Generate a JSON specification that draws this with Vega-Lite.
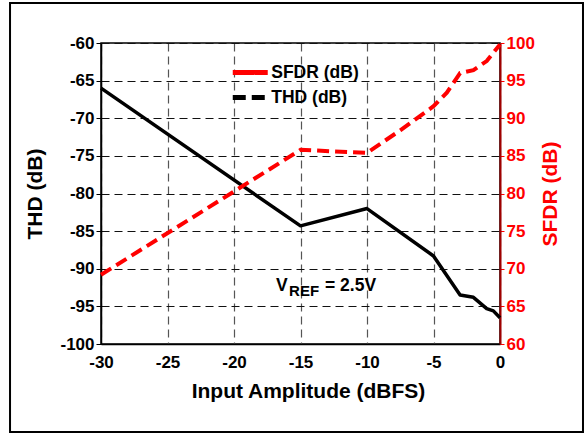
{
  "$schema": "https://vega.github.io/schema/vega-lite/v6.json",
  "autosize": {"type": "none"},
  "width": 399,
  "height": 301,
  "padding": {"left": 101, "top": 43, "right": 85, "bottom": 90},
  "background": "white",
  "config": {
    "font": "Liberation Sans",
    "view": {"stroke": "#000", "strokeWidth": 1.5},
    "axis": {"labelFont": "Liberation Sans", "titleFont": "Liberation Sans", "labelFontWeight": "bold", "titleFontWeight": "bold", "labelFontSize": 17, "titleFontSize": 21, "labelOverlap": false, "labelFlush": false, "labelExpr": "'' + datum.value"}
  },
  "datasets": {
    "thd": [
      {"amp": -30, "thd": -66.0},
      {"amp": -15, "thd": -84.3},
      {"amp": -10, "thd": -82.0},
      {"amp": -5, "thd": -88.3},
      {"amp": -3, "thd": -93.5},
      {"amp": -2, "thd": -93.8},
      {"amp": -1, "thd": -95.3},
      {"amp": -0.5, "thd": -95.6},
      {"amp": 0, "thd": -96.5}
    ],
    "sfdr": [
      {"amp": -30, "sfdr": 69.2},
      {"amp": -15, "sfdr": 85.8},
      {"amp": -10, "sfdr": 85.4},
      {"amp": -7.5, "sfdr": 88.4},
      {"amp": -5, "sfdr": 91.6},
      {"amp": -4, "sfdr": 93.4},
      {"amp": -3, "sfdr": 96.0},
      {"amp": -2, "sfdr": 96.4},
      {"amp": -1, "sfdr": 97.6},
      {"amp": 0, "sfdr": 99.8}
    ],
    "one": [{"k": 1}]
  },
  "layer": [
    {
      "data": {"name": "thd"},
      "mark": {"type": "line", "stroke": "#000", "strokeWidth": 3.5, "strokeJoin": "round"},
      "encoding": {
        "x": {
          "field": "amp", "type": "quantitative",
          "scale": {"domain": [-30, 0], "nice": false, "zero": false},
          "axis": {
            "values": [-30, -25, -20, -15, -10, -5, 0],
            "title": "Input Amplitude (dBFS)",
            "titleColor": "#000",
            "titleX": 207,
            "labelColor": "#000",
            "domainColor": "#000",
            "domainWidth": 1.5,
            "ticks": false,
            "labelPadding": 10,
            "titlePadding": 10,
            "grid": true,
            "gridColor": "#555",
            "gridDash": [8, 5],
            "gridWidth": 1.2
          }
        },
        "y": {
          "field": "thd", "type": "quantitative",
          "scale": {"domain": [-100, -60], "nice": false, "zero": false},
          "axis": {
            "orient": "left",
            "values": [-100, -95, -90, -85, -80, -75, -70, -65, -60],
            "labelOverlap": false,
            "title": "THD (dB)",
            "titleColor": "#000",
            "labelColor": "#000",
            "domainColor": "#000",
            "domainWidth": 1.5,
            "tickColor": "#000",
            "tickSize": 5,
            "labelPadding": 2,
            "titlePadding": 14,
            "grid": true,
            "gridColor": "#111",
            "gridDash": [8, 5],
            "gridWidth": 1.2
          }
        },
        "color": {
          "datum": "THD (dB)",
          "type": "nominal",
          "scale": {"domain": ["SFDR (dB)", "THD (dB)"], "range": ["#ff0000", "#000000"]},
          "legend": {
            "title": null,
            "orient": "none",
            "legendX": 137.75,
            "legendY": 18,
            "labelFont": "Liberation Sans",
            "labelFontWeight": "bold",
            "labelFontSize": 17.5,
            "labelColor": "#000",
            "labelOffset": 9.5,
            "symbolType": "M-2,0H2",
            "symbolSize": 306,
            "symbolStrokeWidth": 5,
            "rowPadding": 3,
            "encode": {
              "symbols": {"update": {"strokeDash": {"signal": "datum.value === 'THD (dB)' ? [13, 6] : [1, 0]"}}}
            }
          }
        }
      }
    },
    {
      "data": {"name": "one"},
      "layer": [
        {
          "mark": {"type": "rect", "filled": false, "stroke": "#000", "strokeWidth": 2, "clip": false},
          "encoding": {
            "x": {"datum": -36.84, "type": "quantitative"},
            "x2": {"datum": 6.24},
            "y": {"datum": -54.68, "type": "quantitative", "scale": {"domain": [-100, -60], "nice": false, "zero": false}, "axis": null},
            "y2": {"datum": -111.69}
          }
        },
        {
          "mark": {"type": "text", "align": "left", "baseline": "alphabetic", "font": "Liberation Sans", "fontWeight": "bold", "fontSize": 17.5, "color": "#000"},
          "encoding": {
            "x": {"datum": -16.84, "type": "quantitative"},
            "y": {"datum": -92.96, "type": "quantitative"},
            "text": {"value": "V"}
          }
        },
        {
          "mark": {"type": "text", "align": "left", "baseline": "alphabetic", "font": "Liberation Sans", "fontWeight": "bold", "fontSize": 15, "color": "#000"},
          "encoding": {
            "x": {"datum": -15.86, "type": "quantitative"},
            "y": {"datum": -93.62, "type": "quantitative"},
            "text": {"value": "REF"}
          }
        },
        {
          "mark": {"type": "text", "align": "left", "baseline": "alphabetic", "font": "Liberation Sans", "fontWeight": "bold", "fontSize": 17.5, "color": "#000"},
          "encoding": {
            "x": {"datum": -13.16, "type": "quantitative"},
            "y": {"datum": -92.96, "type": "quantitative"},
            "text": {"value": "= 2.5V"}
          }
        }
      ]
    },
    {
      "data": {"name": "sfdr"},
      "mark": {"type": "line", "stroke": "#ff0000", "strokeWidth": 4, "strokeDash": [12, 6]},
      "encoding": {
        "x": {"field": "amp", "type": "quantitative"},
        "y": {
          "field": "sfdr", "type": "quantitative",
          "scale": {"domain": [60, 100], "nice": false, "zero": false},
          "axis": {
            "orient": "right",
            "values": [60, 65, 70, 75, 80, 85, 90, 95, 100],
            "title": "SFDR (dB)",
            "titleColor": "#ff0000",
            "titleAngle": -90,
            "titleBaseline": "alphabetic",
            "labelColor": "#ff0000",
            "domainColor": "#a00000",
            "domainWidth": 2,
            "tickColor": "#ff0000",
            "tickSize": 4,
            "labelPadding": 2,
            "titlePadding": 22,
            "grid": false
          }
        },
        "color": {"datum": "SFDR (dB)", "type": "nominal"}
      }
    }
  ],
  "resolve": {"scale": {"y": "independent"}}
}
